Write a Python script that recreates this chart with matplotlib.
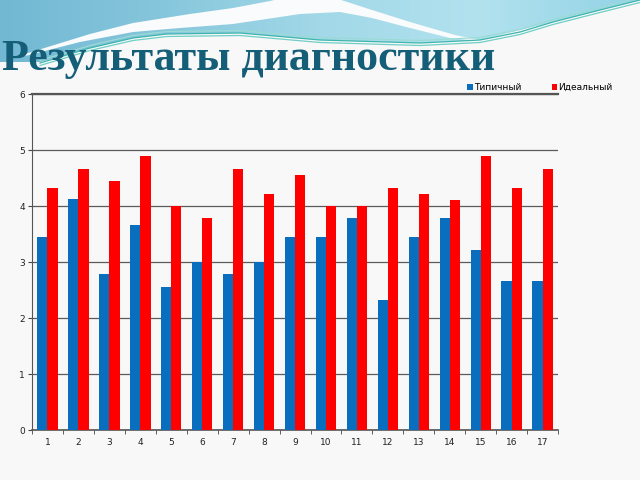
import matplotlib
matplotlib.use("Agg")
import matplotlib.pyplot as plt
import numpy as np
from matplotlib.patches import Polygon
from matplotlib.colors import LinearSegmentedColormap

# данные
categories = [str(i) for i in range(1, 18)]
typical = [3.44, 4.12, 2.78, 3.67, 2.56, 3.0, 2.78, 3.0, 3.44,
           3.44, 3.78, 2.33, 3.44, 3.78, 3.22, 2.67, 2.67]
ideal = [4.33, 4.67, 4.45, 4.89, 4.0, 3.78, 4.67, 4.22, 4.56,
         4.0, 4.0, 4.33, 4.22, 4.11, 4.89, 4.33, 4.67]
series_names = ["Типичный", "Идеальный"]
title = "Результаты диагностики"

fig = plt.figure(figsize=(6.4, 4.8), dpi=100)
fig.patch.set_facecolor("#f8f8f8")

# фон слайда (волна сверху), в пикселях
bg = fig.add_axes([0, 0, 1, 1], zorder=-1)
bg.set_xlim(0, 640)
bg.set_ylim(480, 0)
bg.axis("off")

blue_edge = [(0, 62), (40, 62), (90, 48), (133, 38), (167, 34), (240, 33),
             (320, 40), (420, 43), (480, 40), (553, 22), (600, 10), (640, 0),
             (0, 0)]
blue_shape = Polygon(blue_edge, closed=True, facecolor="none", edgecolor="none")
bg.add_patch(blue_shape)
cmap = LinearSegmentedColormap.from_list(
    "wave", ["#72b8d3", "#86c6dc", "#a2d8e8", "#b2e2ee", "#92d2e6"])
grad = np.linspace(0, 1, 256).reshape(1, -1)
im = bg.imshow(grad, extent=(0, 640, 64, 0), cmap=cmap, aspect="auto")
im.set_clip_path(blue_shape)

ribbon_top = [(25, 54), (90, 34), (133, 23), (190, 14), (233, 8), (270, 1),
              (283, -2), (335, -2), (372, 10), (410, 22), (455, 35), (490, 42)]
ribbon_bottom = [(490, 42), (450, 38), (410, 28), (372, 18), (340, 12),
                 (300, 14), (260, 20), (233, 24), (180, 28), (133, 32),
                 (80, 42), (25, 56)]
bg.add_patch(Polygon(ribbon_top + ribbon_bottom, closed=True,
                     facecolor="#f9fbfc", edgecolor="none"))

line_x = [40, 90, 133, 167, 240, 320, 420, 480, 520, 553, 600, 640]
line_y = [63, 48, 38, 34, 33, 40, 43, 40, 32, 22, 10, 0]
for dy, c in [(0, "#3bb5ad"), (2.5, "#6fcfc6"), (-2.5, "#9adbd4")]:
    bg.plot(line_x, np.array(line_y) + dy, color=c, lw=0.9)

fig.text(0.003, 0.854, title, fontsize=31.7, fontweight="bold",
         family="Liberation Serif", color="#145e78", ha="left", va="baseline")

# диаграмма
ax = fig.add_axes([0.05, 0.104, 0.822, 0.7])
ax.set_facecolor("none")
x = np.arange(1, len(categories) + 1)
w = 0.33
ax.bar(x - w / 2, typical, w, color="#0a6ebf", label=series_names[0], zorder=3)
ax.bar(x + w / 2, ideal, w, color="#ff0000", label=series_names[1], zorder=3)

ax.set_xlim(0.5, len(categories) + 0.5)
ax.set_ylim(0, 6)
ax.set_yticks(range(0, 7))
ax.set_xticks(x)
ax.set_xticklabels(categories)
ax.set_xticks(np.arange(0.5, len(categories) + 1, 1), minor=True)
ax.tick_params(axis="x", which="major", length=0, pad=6, labelsize=6.5,
               labelcolor="#222")
ax.tick_params(axis="x", which="minor", length=3, color="#444")
ax.tick_params(axis="y", length=3, color="#444", labelsize=6.5,
               labelcolor="#222", pad=2)
ax.yaxis.grid(True, color="#5a5a5a", lw=0.9, zorder=0)
ax.set_axisbelow(True)
ax.spines["right"].set_visible(False)
ax.spines["top"].set_color("#555")
ax.spines["top"].set_linewidth(1.6)
ax.spines["left"].set_color("#555")
ax.spines["bottom"].set_color("#555")
ax.spines["bottom"].set_linewidth(1.2)

ax.legend(ncol=2, loc="lower right", bbox_to_anchor=(1.11, 0.995),
          frameon=False, fontsize=6.5, handlelength=0.6, handleheight=0.6,
          handletextpad=0.1, columnspacing=3.4, borderaxespad=0)

fig.savefig("out.png", dpi=100, facecolor=fig.get_facecolor())
